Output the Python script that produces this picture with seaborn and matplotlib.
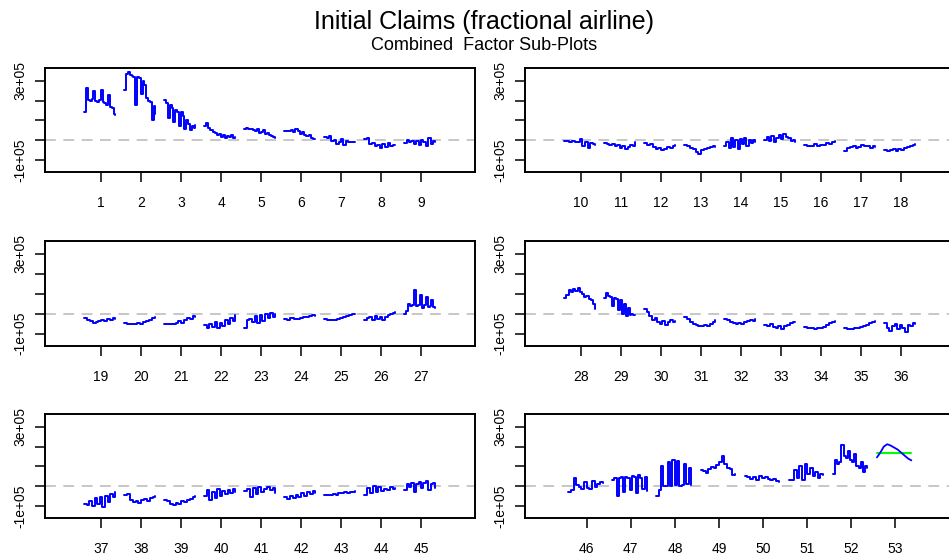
import matplotlib
matplotlib.use("Agg")
import matplotlib.pyplot as plt
import numpy as np
import pandas as pd
import seaborn as sns

# combined seasonal factor for each week of the year
# (values in thousands, one list per week, years in order)
weeks_1_9 = [
    [142, 265, 205, 200, 210, 250, 200, 195, 205, 255, 195, 190, 180, 230, 165, 160, 130, 125],
    [251, 335, 343, 330, 325, 320, 180, 320, 315, 235, 300, 280, 215, 200, 195, 100, 170, 134],
    [205, 190, 110, 175, 160, 90, 150, 140, 70, 140, 120, 55, 100, 80, 50, 70, 60, 75],
    [70, 85, 60, 50, 40, 35, 25, 30, 15, 25, 10, 20, 15, 25, 10, 15],
    [55, 60, 55, 58, 50, 45, 55, 35, 40, 50, 30, 35, 25, 20, 15, 10],
    [45, 48, 45, 50, 40, 55, 45, 30, 40, 25, 20, 25, 10, 5, 3],
    [15, 12, 18, -5, 0, -20, -10, 5, -25, -5, -10, -8, -10, -8],
    [5, 10, -20, -15, -30, -25, -40, -20, -35, -15, -30, -25, -25],
    [-15, 0, -10, -5, -20, -5, -25, 0, -10, -30, 10, -20, -5, -8],
]
weeks_10_18 = [
    [-3, -5, -8, -5, -10, -8, 5, -30, -10, -40, -15, -20, -25],
    [-15, -20, -25, -20, -30, -25, -40, -30, -45, -35, -25, -30, -10],
    [-15, -25, -20, -35, -45, -40, -50, -45, -35, -40, -30, -25],
    [-25, -30, -40, -45, -60, -70, -50, -45, -40, -35, -30, -35],
    [-30, -10, -40, 10, -35, 0, -45, 5, -20, 10, -30, 0, -15, 0, -10],
    [0, 15, -5, 20, -10, 10, 25, 5, 30, 15, 10, -5, 0, -10],
    [-25, -30, -30, -20, -30, -25, -25, -15, -20, -10, -5],
    [-55, -40, -35, -30, -40, -35, -25, -30, -30, -40, -30, -35],
    [-50, -55, -50, -45, -55, -45, -50, -40, -35, -30, -25, -20],
]
weeks_19_27 = [
    [-20, -30, -35, -45, -40, -35, -30, -35, -25, -30, -20, -25],
    [-45, -50, -50, -50, -45, -50, -40, -35, -30, -20, -18],
    [-50, -50, -50, -50, -45, -35, -45, -30, -20, -25, -10, -15],
    [-55, -70, -50, -65, -40, -70, -45, -60, -30, -50, -20, -35, -5],
    [-70, -30, -25, -40, -10, -45, -5, -35, 0, -20, 5, -15, 0],
    [-25, -30, -20, -25, -28, -20, -15, -15, -10, -5, -10],
    [-25, -30, -30, -30, -25, -20, -15, -10, -5, 0, -3],
    [-30, -20, -15, -30, -10, -25, -15, -30, -15, -5, 0, 5, 10],
    [0, 15, 50, 40, 45, 120, 40, 45, 95, 30, 45, 85, 35, 40, 70, 35, 30],
]
weeks_28_36 = [
    [80, 95, 120, 110, 125, 115, 130, 110, 100, 85, 90, 75, 70, 50, 25],
    [77, 103, 90, 85, 40, 80, 75, 20, 70, 0, 50, -10, 30, -5, 0, -5, -5],
    [25, 10, -10, -30, -20, -40, -50, -35, -55, -40, -30, -40, -35],
    [-15, -25, -40, -50, -55, -60, -60, -55, -60, -50, -40, -30],
    [-25, -30, -40, -45, -50, -45, -50, -40, -35, -30, -35, -25],
    [-55, -60, -50, -65, -70, -60, -75, -60, -55, -45, -40, -40],
    [-65, -70, -70, -75, -70, -70, -65, -55, -45, -40, -35],
    [-70, -75, -75, -70, -70, -65, -60, -55, -45, -40, -35],
    [-45, -70, -85, -60, -50, -75, -55, -70, -90, -55, -60, -45, -50],
]
weeks_37_45 = [
    [-90, -95, -75, -100, -60, -90, -55, -105, -50, -80, -40, -55, -30],
    [-45, -40, -70, -80, -75, -85, -70, -65, -75, -60, -55, -50],
    [-70, -75, -90, -95, -85, -90, -75, -80, -70, -65, -55, -50],
    [-50, -20, -70, -30, -60, -15, -50, -25, -40, -20, -35, -15, -30],
    [-25, -15, -55, -10, -40, -5, -30, -15, -5, -20, -10, -35],
    [-55, -65, -50, -60, -45, -55, -35, -50, -30, -40, -25, -35],
    [-45, -45, -45, -40, -45, -35, -35, -30, -35, -30, -30, -25],
    [-45, -10, -35, 0, -30, -5, -25, -15, -20, -5, -15, -10],
    [-20, 10, -5, 15, -30, 10, 20, -10, 15, 25, -20, 10, 15, -10],
]
weeks_46_53 = [
    [-30, -20, 40, 5, -5, -15, 20, -10, -15, 25, -5, 10, 20, 15],
    [30, 40, -50, 40, 45, -30, 45, 40, -20, 50, 45, -35, 55, 40, -15, 45, -25],
    [-50, -20, 100, 0, 0, 120, 0, 130, 5, 125, 0, 5, 110, 10, 90, 5],
    [80, 75, 65, 85, 95, 90, 105, 120, 150, 110, 90, 85, 55, 60],
    [50, 45, 35, 45, 30, 50, 40, 45, 35, 30, 35, 25, 20],
    [30, 30, 80, 40, 100, 30, 110, 60, 90, 50, 70, 40, 60, 55],
    [60, 130, 110, 120, 210, 150, 140, 180, 130, 120, 160, 100, 90, 120, 70, 100, 90],
    [145, 170, 200, 212, 205, 195, 185, 170, 155, 140, 130],
]
first_weeks = [1, 10, 19, 28, 37, 46]
week53_level = 168  # green line drawn over week 53

panels = [weeks_1_9, weeks_10_18, weeks_19_27, weeks_28_36, weeks_37_45, weeks_46_53]

sns.set_style("white")
plt.rcParams['font.family'] = ['Liberation Sans', 'DejaVu Sans']
plt.rcParams['text.color'] = 'black'
plt.rcParams['xtick.color'] = 'black'
plt.rcParams['ytick.color'] = 'black'

W, H = 949, 558
fig = plt.figure(figsize=(W / 100, H / 100), dpi=100)

# axes boxes in pixels (left, top, right, bottom)
lefts = [45, 525]
rows = [(68, 172), (241, 346), (414, 518)]

for p, weeks in enumerate(panels):
    r, c = divmod(p, 2)
    x0 = lefts[c]
    top, bot = rows[r]
    ax = fig.add_axes([x0 / W, 1 - bot / H, 430 / W, (bot - top) / H])

    start = first_weeks[p]
    rec = []
    for i, vals in enumerate(weeks):
        wk = start + i
        n = len(vals)
        for j, v in enumerate(vals):
            rec.append((wk, wk - 0.42 + 0.78 * j / (n - 1), v * 1000))
    df = pd.DataFrame(rec, columns=["week", "x", "y"])
    last = start + len(weeks) - 1

    ax.axhline(0, color="#BEBEBE", lw=1.2, dashes=(6.5, 4.5), zorder=1)
    # the smooth last week is drawn as a plain line, the rest as steps
    step = df[df["week"] != 53]
    sns.lineplot(data=step, x="x", y="y", units="week", estimator=None,
                 color="#0000FF", lw=1.4, ax=ax, zorder=3, drawstyle="steps-post")
    if last == 53:
        sns.lineplot(data=df[df["week"] == 53], x="x", y="y",
                     color="#0000FF", lw=1.3, ax=ax, zorder=3)
        sns.lineplot(x=[53 - 0.42, 53 + 0.36], y=[week53_level * 1000] * 2,
                     color="#00FF00", lw=1.5, ax=ax, zorder=2)

    ax.set_xlim(start - 1.4, last + 1.35)
    ax.set_ylim(-162000, 365000)
    ax.set_xticks(range(start, last + 1))
    ax.set_xticklabels([str(k) for k in range(start, last + 1)], fontsize=10)
    ax.set_yticks([-100000, 0, 100000, 200000, 300000])
    ax.set_yticklabels(["-1e+05", "", "", "", "3e+05"], rotation=90,
                       va="center", fontsize=10)
    ax.tick_params(axis="both", direction="out", length=7, width=1.1,
                   color="black", labelcolor="black", left=True, bottom=True)
    ax.tick_params(axis="x", pad=10)
    ax.tick_params(axis="y", pad=6)
    ax.set_xlabel("")
    ax.set_ylabel("")
    for s in ax.spines.values():
        s.set_visible(True)
        s.set_color("black")
        s.set_linewidth(1.4)

fig.text(484 / W, 1 - 22 / H, "Initial Claims (fractional airline)",
         ha="center", va="center", fontsize=18, color="black")
fig.text(484 / W, 1 - 45 / H, "Combined  Factor Sub-Plots",
         ha="center", va="center", fontsize=13, color="black")

fig.savefig("out.png", dpi=100)
